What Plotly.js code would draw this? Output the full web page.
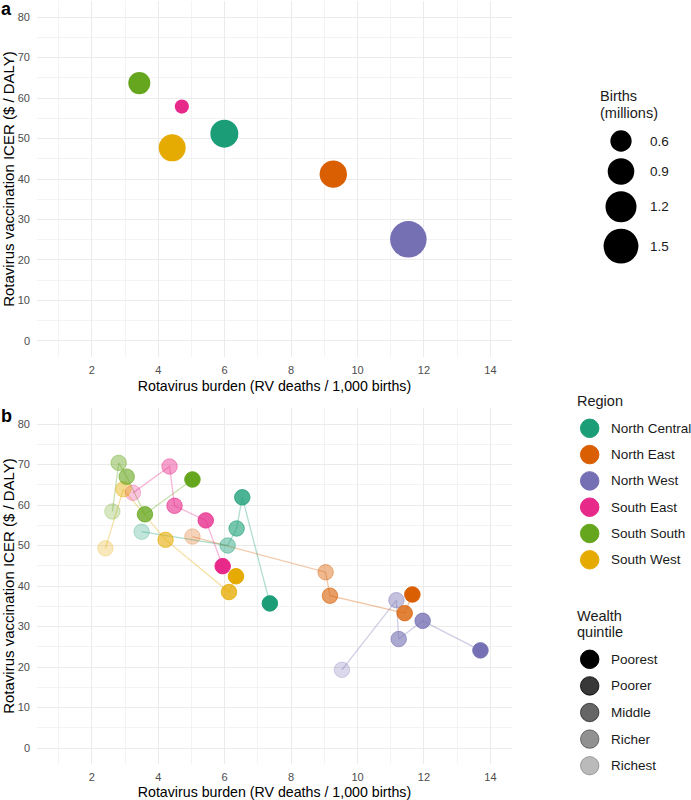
<!DOCTYPE html>
<html><head><meta charset="utf-8">
<script src="https://cdn.plot.ly/plotly-3.0.1.min.js"></script>
<style>html,body{margin:0;padding:0;background:#fff;overflow:hidden}#chart{width:691px;height:800px}</style>
</head><body><div id="chart"></div>
<script>
// ---------- data ----------
const regions = ['North Central', 'North East', 'North West', 'South East', 'South South', 'South West'];
const quintiles = ['Poorest', 'Poorer', 'Middle', 'Richer', 'Richest'];
const birthsLegendValues = [0.6, 0.9, 1.2, 1.5];
const xTicks = [2, 4, 6, 8, 10, 12, 14];
const xMinorTicks = [1, 3, 5, 7, 9, 11, 13];
const yTicks = [0, 10, 20, 30, 40, 50, 60, 70, 80];
const yMinorTicks = [5, 15, 25, 35, 45, 55, 65, 75];

// Panel a: regional averages
const burdenA = [5.99, 9.27, 11.53, 4.71, 3.43, 4.42];
const icerA = [51.2, 41.2, 25.1, 57.9, 63.7, 47.7];
const birthsA = [0.99, 0.95, 1.63, 0.29, 0.64, 0.93];

// Panel b: by wealth quintile (Poorest, Poorer, Middle, Richer, Richest)
const burdenNorthCentral = [7.36, 6.53, 6.36, 6.09, 3.50];
const icerNorthCentral = [35.7, 61.9, 54.2, 50.0, 53.4];
const burdenNorthEast = [11.65, 11.42, 9.17, 9.04, 5.03];
const icerNorthEast = [37.9, 33.3, 37.6, 43.4, 52.2];
const burdenNorthWest = [13.70, 11.96, 11.24, 11.17, 9.53];
const icerNorthWest = [24.1, 31.4, 26.9, 36.5, 19.3];
const burdenSouthEast = [5.94, 5.43, 4.49, 4.34, 3.24];
const icerSouthEast = [44.9, 56.2, 59.8, 69.5, 63.0];
const burdenSouthSouth = [5.03, 3.60, 3.05, 2.81, 2.62];
const icerSouthSouth = [66.3, 57.7, 67.0, 70.4, 58.4];
const burdenSouthWest = [6.34, 6.13, 4.22, 2.95, 2.41];
const icerSouthWest = [42.4, 38.5, 51.4, 63.9, 49.3];

// ---------- styles ----------
const regionColors = ['#1B9E77', '#D95F02', '#7570B3', '#E7298A', '#66A61E', '#E6AB02'];
const quintileAlpha = [1, 0.78, 0.6, 0.43, 0.27];
const FONT = 'Liberation Sans, Arial, Helvetica, sans-serif';
const W = 691, H = 800;

const burdenB = [burdenNorthCentral, burdenNorthEast, burdenNorthWest, burdenSouthEast, burdenSouthSouth, burdenSouthWest];
const icerB = [icerNorthCentral, icerNorthEast, icerNorthWest, icerSouthEast, icerSouthSouth, icerSouthWest];

function rgba(hex, a) {
  const r = parseInt(hex.slice(1, 3), 16), g = parseInt(hex.slice(3, 5), 16), b = parseInt(hex.slice(5, 7), 16);
  return 'rgba(' + r + ',' + g + ',' + b + ',' + a + ')';
}
function bubble(b) { return -2.15 + 30.25 * Math.sqrt(b); }

const traces = [];
// Panel a: one trace per region
regions.forEach((r, i) => {
  traces.push({
    type: 'scatter', mode: 'markers', x: [burdenA[i]], y: [icerA[i]], xaxis: 'x', yaxis: 'y',
    name: r, showlegend: false, hoverinfo: 'name+x+y', cliponaxis: false,
    marker: { color: regionColors[i], size: bubble(birthsA[i]), opacity: 1, line: { width: 0 } }
  });
});
// Panel b lines
regions.forEach((r, i) => {
  traces.push({
    type: 'scatter', mode: 'lines', x: burdenB[i], y: icerB[i], xaxis: 'x2', yaxis: 'y2',
    showlegend: false, hoverinfo: 'skip',
    line: { color: rgba(regionColors[i], 0.34), width: 1.3 }
  });
});
// Panel b points, richest first so poorest drawn on top
for (let q = quintiles.length - 1; q >= 0; q--) {
  const cols = regionColors.map(c => rgba(c, quintileAlpha[q]));
  traces.push({
    type: 'scatter', mode: 'markers', xaxis: 'x2', yaxis: 'y2', showlegend: false,
    x: burdenB.map(a => a[q]), y: icerB.map(a => a[q]),
    text: regions.map(r => r + ' - ' + quintiles[q]), hoverinfo: 'text+x+y',
    marker: { size: 15.5, opacity: 1, color: cols, line: { color: cols, width: 1 } }
  });
}

// ---------- legends (circle shapes + text annotations, placed in pixels) ----------
const annotations = [];
const shapes = [];
const px = x => x / W;
const py = y => 1 - y / H;
const legFont = { family: FONT, size: 13.5, color: '#1a1a1a' };
const legTitleFont = { family: FONT, size: 14.5, color: '#1a1a1a' };
function legText(x, y, t, f) {
  annotations.push({ xref: 'paper', yref: 'paper', x: px(x), y: py(y), text: t, showarrow: false,
    xanchor: 'left', yanchor: 'middle', font: f || legFont });
}
function legKey(x, y, d, fill, stroke, sw) {
  const r = d / 2;
  shapes.push({ type: 'circle', xref: 'paper', yref: 'paper', xsizemode: 'pixel', ysizemode: 'pixel',
    xanchor: px(x), yanchor: py(y), x0: -r, x1: r, y0: -r, y1: r,
    fillcolor: fill, line: { color: stroke || fill, width: sw || 0 }, layer: 'above' });
}
// Births legend
const bSizes = birthsLegendValues.map(bubble);
const bY = [];
bSizes.forEach((d, i) => { bY.push(i === 0 ? 141 : bY[i - 1] + (bSizes[i - 1] + d) / 2 + 6.5); });
legText(598, 96.5, 'Births', legTitleFont);
legText(598, 113, '(millions)', legTitleFont);
birthsLegendValues.forEach((v, i) => { legKey(621, bY[i], bSizes[i], '#000'); legText(648, bY[i], v.toFixed(1)); });

// Region legend
legText(575, 400.5, 'Region', legTitleFont);
regions.forEach((r, i) => {
  const y = 428.3 + i * 26.3;
  legKey(589.7, y, 18.5, regionColors[i], regionColors[i], 1);
  legText(608.5, y, r);
});

// Wealth legend
legText(575, 616, 'Wealth', legTitleFont);
legText(575, 632.3, 'quintile', legTitleFont);
quintiles.forEach((q, i) => {
  const y = 659.3 + i * 26.6;
  const c = 'rgba(0,0,0,' + quintileAlpha[i] + ')';
  legKey(589.7, y, 18.5, c, c, 1);
  legText(608.5, y, q);
});

// panel tags
annotations.push({ xref: 'paper', yref: 'paper', x: -0.002, y: 1.004, xanchor: 'left', yanchor: 'top',
  text: '<b>a</b>', showarrow: false, font: { family: FONT, size: 18, color: '#000' } });
annotations.push({ xref: 'paper', yref: 'paper', x: -0.002, y: 1 - 404 / 800, xanchor: 'left', yanchor: 'top',
  text: '<b>b</b>', showarrow: false, font: { family: FONT, size: 18, color: '#000' } });

// ---------- axes ----------
const xDom = [37 / W, 512 / W];
function xAxis(anchor) {
  return {
    domain: xDom, anchor: anchor, range: [0.35, 14.65], tickmode: 'array', tickvals: xTicks, ticks: '',
    showgrid: true, gridcolor: '#ebebeb', gridwidth: 1, zeroline: false, showline: false,
    showspikes: false,
    minor: { tickmode: 'array', tickvals: xMinorTicks, ticks: '', showgrid: true, gridcolor: '#ebebeb', gridwidth: 0.6 },
    tickfont: { family: FONT, size: 11, color: '#4d4d4d' }, ticklabelstandoff: 5,
    title: { text: 'Rotavirus burden (RV deaths / 1,000 births)', font: { family: FONT, size: 14.2, color: '#000' }, standoff: 6 },
    automargin: false, fixedrange: true
  };
}
function yAxis(anchor, dom) {
  return {
    domain: dom, anchor: anchor, range: [-4, 84], tickmode: 'array', tickvals: yTicks, ticks: '',
    showgrid: true, gridcolor: '#ebebeb', gridwidth: 1, zeroline: false, showline: false,
    showspikes: false,
    minor: { tickmode: 'array', tickvals: yMinorTicks, ticks: '', showgrid: true, gridcolor: '#ebebeb', gridwidth: 0.6 },
    tickfont: { family: FONT, size: 11, color: '#4d4d4d' }, ticklabelstandoff: 6,
    title: { text: 'Rotavirus vaccination ICER ($ / DALY)', font: { family: FONT, size: 15, color: '#000' }, standoff: 1 },
    automargin: false, fixedrange: true
  };
}

const layout = {
  width: W, height: H,
  margin: { l: 0, r: 0, t: 0, b: 0, pad: 0 },
  paper_bgcolor: '#fff', plot_bgcolor: 'rgba(0,0,0,0)',
  showlegend: false, hovermode: false,
  font: { family: FONT },
  xaxis: xAxis('y'),
  yaxis: yAxis('x', [1 - 357 / H, 1 - 1 / H]),
  xaxis2: xAxis('y2'),
  yaxis2: yAxis('x2', [1 - 764.2 / H, 1 - 407.8 / H]),
  shapes: shapes,
  annotations: annotations
};

Plotly.newPlot('chart', traces, layout, { staticPlot: true, displayModeBar: false, responsive: false });
</script>
</body></html>
